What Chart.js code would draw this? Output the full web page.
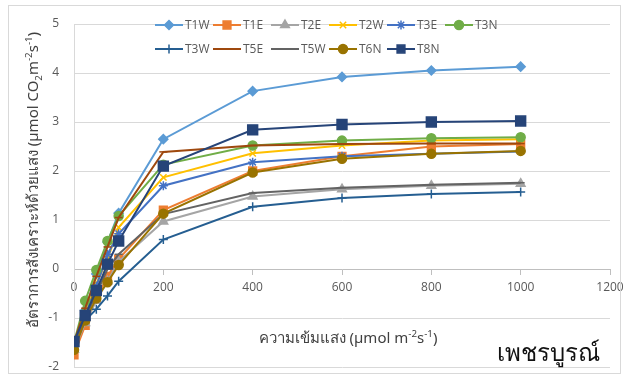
<!DOCTYPE html>
<html>
<head>
<meta charset="utf-8">
<script src="https://cdn.jsdelivr.net/npm/chart.js@4/dist/chart.umd.min.js"></script>
<style>
  html, body { margin: 0; padding: 0; background: #fff; }
  #wrap { position: relative; width: 625px; height: 381px; overflow: hidden; }
  #c { position: absolute; left: 0; top: 0; }
  .frame { position: absolute; left: 8px; top: 5px; width: 611px; height: 367px; border: 1px solid #D9D9D9; pointer-events: none; }
  .t { position: absolute; white-space: nowrap; font-family: "Noto Sans", "Open Sans", sans-serif; color: #404040; }
  .t sup, .t sub { font-size: 65%; line-height: 0; }
  #ytitle { width: 420px; left: -178px; top: 170px; height: 20px; line-height: 20px; text-align: center; font-size: 15px; transform: rotate(-90deg); transform-origin: 50% 50%; }
  #xtitle { width: 320px; left: 188px; top: 327px; height: 20px; line-height: 20px; text-align: center; font-size: 15px; }
  #prov { right: 25px; top: 337px; height: 30px; line-height: 30px; font-size: 24px; color: #111; }
</style>
</head>
<body>
<div id="wrap">
  <canvas id="c" width="625" height="381"></canvas>
  <div class="frame"></div>
  <div class="t" id="ytitle">อัตราการสังเคราะห์ด้วยแสง (µmol CO<sub>2</sub>m<sup>-2</sup>s<sup>-1</sup>)</div>
  <div class="t" id="xtitle">ความเข้มแสง (µmol m<sup>-2</sup>s<sup>-1</sup>)</div>
  <div class="t" id="prov">เพชรบูรณ์</div>
</div>
<script>
// Light intensity levels (µmol m-2 s-1)
const lightLevels = [0, 25, 50, 75, 100, 200, 400, 600, 800, 1000];

// Photosynthesis rate series (µmol CO2 m-2 s-1)
const T1W = [-1.50, -0.85, -0.10, 0.55, 1.14, 2.65, 3.63, 3.92, 4.05, 4.13];
const T1E = [-1.75, -1.15, -0.60, -0.15, 0.20, 1.20, 2.00, 2.30, 2.50, 2.55];
const T2E = [-1.65, -1.10, -0.65, -0.25, 0.15, 0.97, 1.48, 1.63, 1.70, 1.74];
const T2W = [-1.50, -0.90, -0.30, 0.20, 0.85, 1.87, 2.36, 2.52, 2.62, 2.65];
const T3E = [-1.55, -0.95, -0.35, 0.30, 0.72, 1.70, 2.18, 2.30, 2.35, 2.40];
const T3N = [-1.50, -0.65, -0.02, 0.57, 1.08, 2.13, 2.52, 2.62, 2.67, 2.69];
const T3W = [-1.60, -1.05, -0.82, -0.55, -0.25, 0.60, 1.27, 1.45, 1.53, 1.57];
const T5E = [-1.50, -0.80, -0.15, 0.45, 1.05, 2.39, 2.52, 2.55, 2.56, 2.56];
const T5W = [-1.60, -1.00, -0.50, 0.00, 0.30, 1.12, 1.55, 1.66, 1.72, 1.76];
const T6N = [-1.65, -1.05, -0.60, -0.27, 0.08, 1.13, 1.97, 2.25, 2.35, 2.41];
const T8N = [-1.48, -0.95, -0.44, 0.10, 0.57, 2.10, 2.84, 2.95, 3.00, 3.02];

const seriesNames = ['T1W','T1E','T2E','T2W','T3E','T3N','T3W','T5E','T5W','T6N','T8N'];
const seriesValues = [T1W, T1E, T2E, T2W, T3E, T3N, T3W, T5E, T5W, T6N, T8N];

// Tick labels
const xTicks = [0, 200, 400, 600, 800, 1000, 1200];
const yTicks = [-2, -1, 0, 1, 2, 3, 4, 5];

// Styles
const colors = ['#5B9BD5','#ED7D31','#A5A5A5','#FFC000','#4472C4','#70AD47','#255E91','#9E480E','#636363','#997300','#264478'];
const markers = ['rectRot','rect','triangle','crossRot','star','circle','cross','line','line','circle','rect'];
const markerSizes = [4.5, 5.5, 5, 4.5, 4.5, 4.5, 4.5, 4, 4, 4.5, 7];

const datasets = seriesNames.map((name, i) => ({
  label: name,
  data: lightLevels.map((x, j) => ({ x: x, y: seriesValues[i][j] })),
  borderColor: colors[i],
  backgroundColor: colors[i],
  pointBackgroundColor: colors[i],
  pointBorderColor: colors[i],
  pointStyle: markers[i],
  pointRadius: markerSizes[i],
  pointHoverRadius: markerSizes[i],
  pointBorderWidth: 1.5,
  borderWidth: 2,
  tension: 0,
  fill: false,
  order: seriesNames.length - i
}));

const legendPlugin = {
  id: 'excelLegend',
  afterDraw(chart) {
    const ctx = chart.ctx;
    const ds = chart.data.datasets;
    ctx.save();
    ds.forEach((d, i) => {
      const row = i < 6 ? 0 : 1;
      const col = row === 0 ? i : i - 6;
      const x = 155 + col * 58;
      const y = row === 0 ? 25 : 49;
      ctx.strokeStyle = d.borderColor;
      ctx.fillStyle = d.borderColor;
      ctx.lineWidth = 2;
      ctx.beginPath();
      ctx.moveTo(x, y);
      ctx.lineTo(x + 28, y);
      ctx.stroke();
      ctx.lineWidth = 1.5;
      Chart.helpers.drawPoint(ctx, { pointStyle: d.pointStyle, radius: Math.min(d.pointRadius, 5.5), borderWidth: 1.5, rotation: 0 }, x + 14, y);
      ctx.fillStyle = '#595959';
      ctx.font = '12px "Open Sans", sans-serif';
      ctx.textBaseline = 'middle';
      ctx.textAlign = 'left';
      ctx.fillText(d.label, x + 30, y + 1);
    });
    ctx.restore();
  }
};

new Chart(document.getElementById('c'), {
  type: 'line',
  data: { datasets: datasets },
  options: {
    responsive: false,
    animation: false,
    layout: { padding: { left: 0, right: 15, top: 24, bottom: 14 } },
    plugins: {
      legend: { display: false },
      tooltip: { enabled: false }
    },
    scales: {
      x: {
        type: 'linear',
        position: { y: 0 },
        min: xTicks[0],
        max: xTicks[xTicks.length - 1],
        afterBuildTicks: (scale) => { scale.ticks = xTicks.map(v => ({ value: v })); },
        afterFit: (scale) => { scale.height = 0; scale.paddingLeft = 0; scale.paddingRight = 0; },
        ticks: { color: '#595959', font: { family: 'Open Sans', size: 12 }, padding: 6, maxRotation: 0, autoSkip: false, callback: (v) => String(v) },
        grid: { drawOnChartArea: false, drawTicks: true, tickLength: 5, color: '#BFBFBF' },
        border: { display: true, color: '#BFBFBF', width: 1 }
      },
      y: {
        type: 'linear',
        position: 'left',
        min: yTicks[0],
        max: yTicks[yTicks.length - 1],
        afterBuildTicks: (scale) => { scale.ticks = yTicks.map(v => ({ value: v })); },
        afterFit: (scale) => { scale.width = 74; scale.paddingTop = 0; scale.paddingBottom = 0; },
        ticks: { color: '#595959', font: { family: 'Open Sans', size: 12 }, padding: 15, callback: (v) => String(v) },
        grid: { color: '#D9D9D9', drawTicks: false },
        border: { display: true, color: '#D9D9D9' }
      }
    }
  },
  plugins: [legendPlugin]
});
</script>
</body>
</html>
